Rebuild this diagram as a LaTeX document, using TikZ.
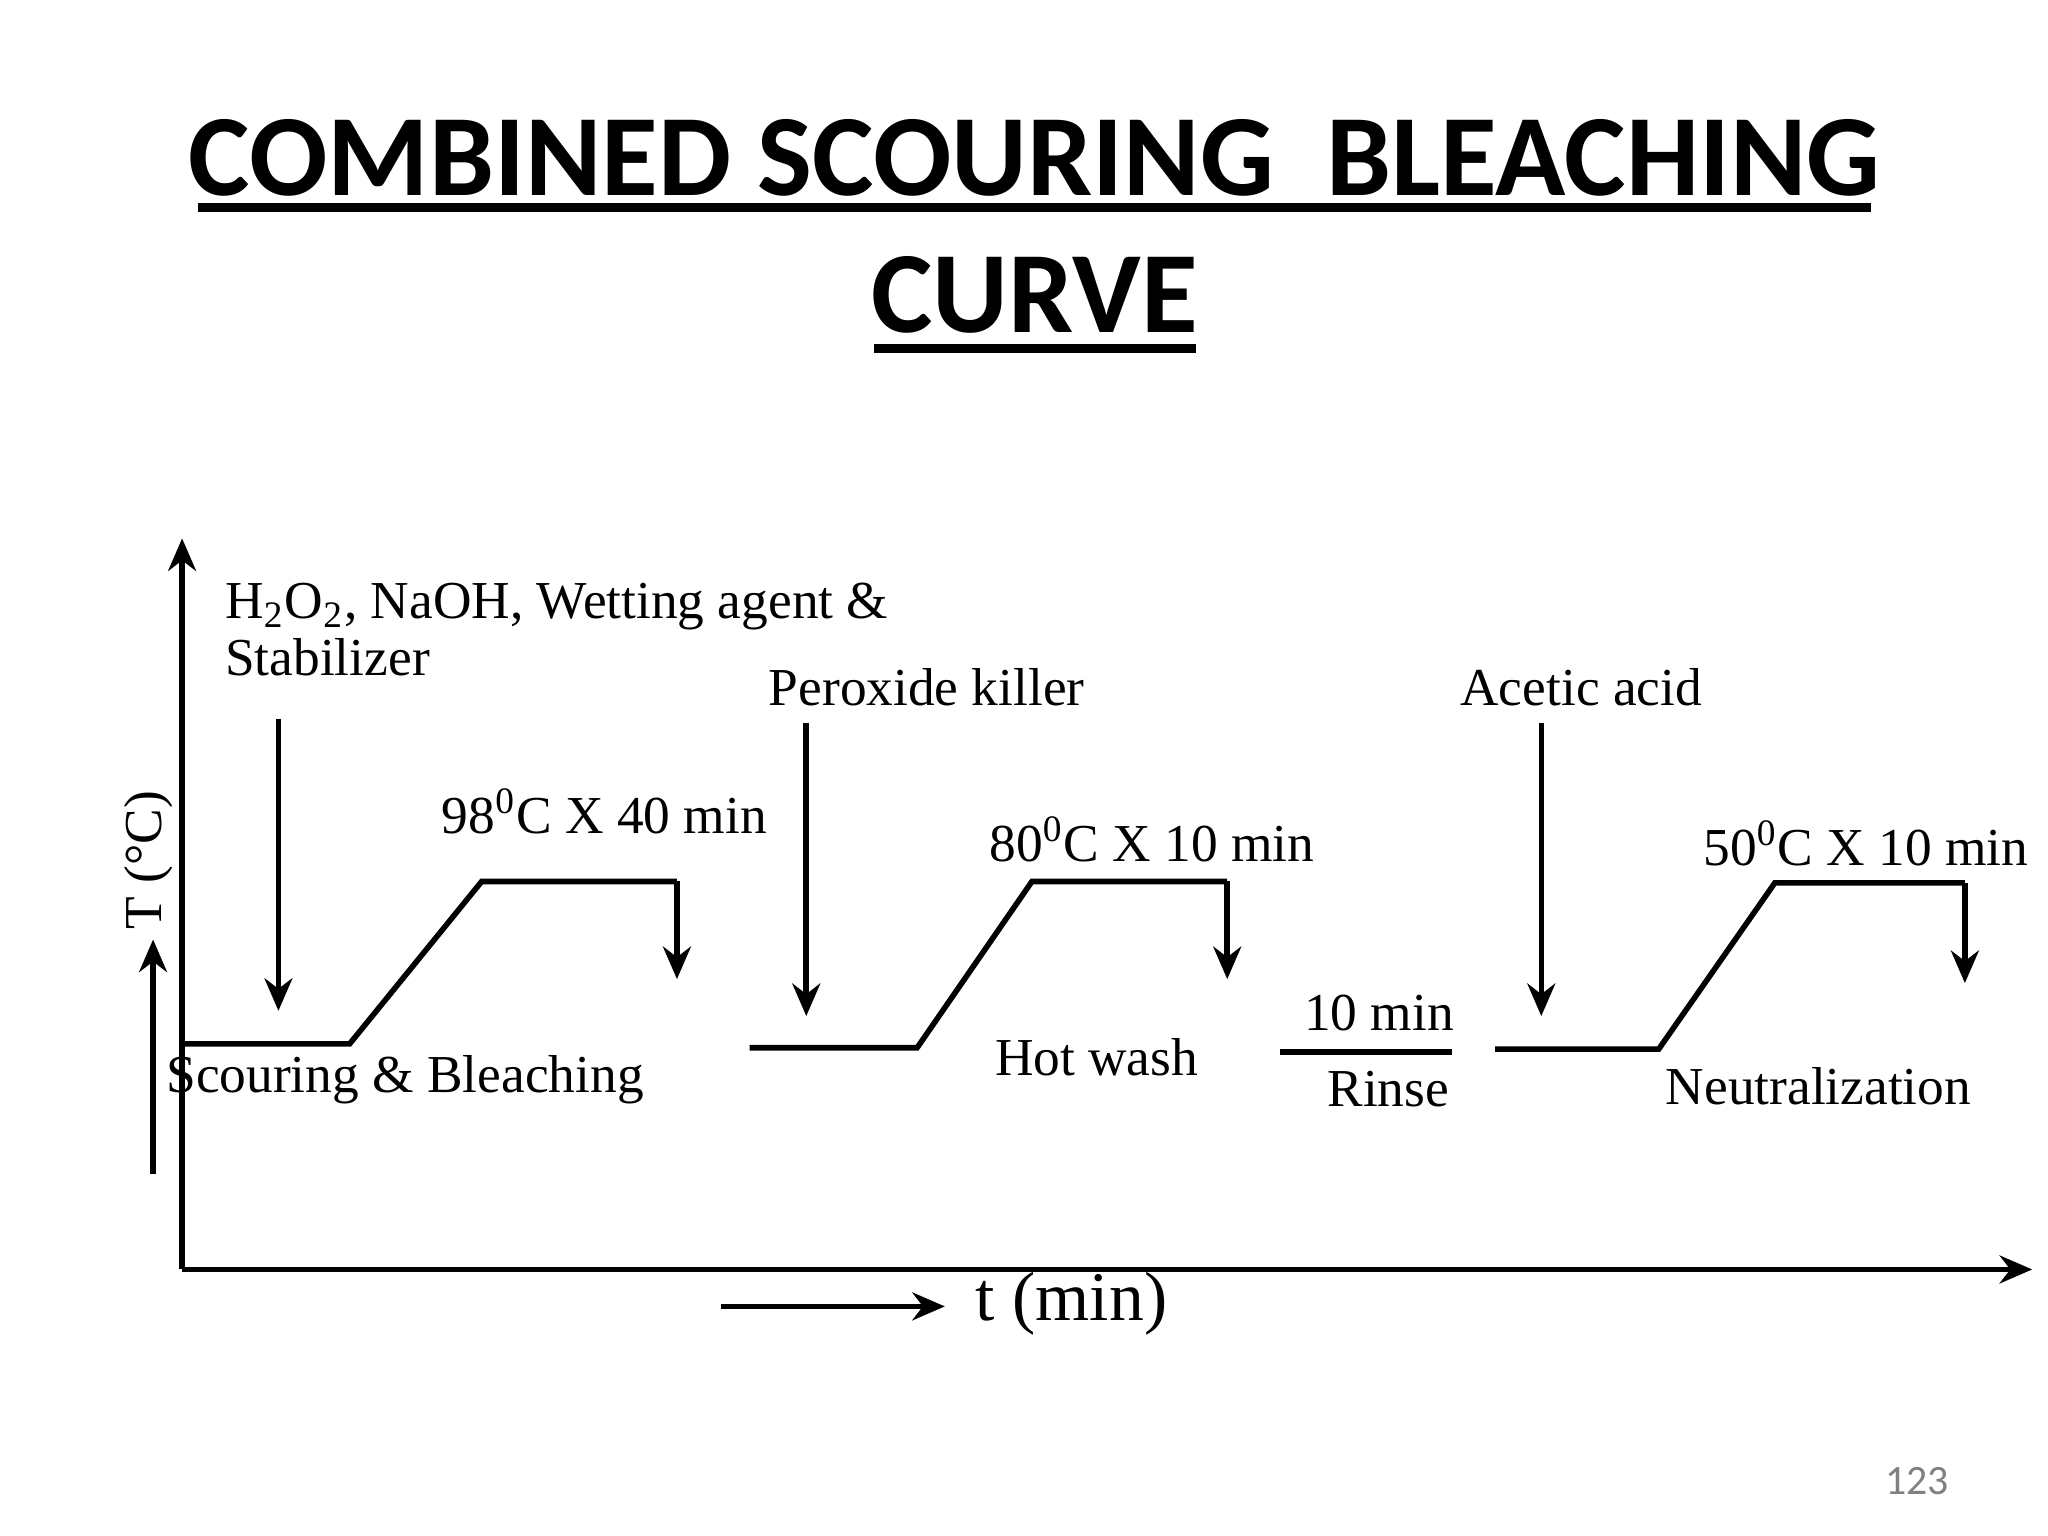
\documentclass[tikz,border=0pt]{standalone}
\usepackage{fontspec}
\setmainfont{Liberation Serif}
\newfontfamily\titlefont{Carlito}
\usetikzlibrary{arrows.meta}
\begin{document}
\begin{tikzpicture}[x=0.01cm,y=-0.01cm,
  lbl/.style={font=\fontsize{11.5}{13}\selectfont, inner sep=0pt},
  ttl/.style={font=\titlefont\bfseries\fontsize{25}{28}\selectfont, inner sep=0pt},
  crv/.style={line width=1.2pt},
  arr/.style={line width=1.2pt,-{Stealth[length=7pt,width=6pt]}}]
\useasboundingbox (0,0) rectangle (1552,1164);
% title
\node[ttl,anchor=base] (t1) at (784,148) {COMBINED SCOURING\ \ BLEACHING};
\node[ttl,anchor=base] (t2) at (784,252) {CURVE};
\draw[line width=2pt] (150,157) -- (1418,157);
\draw[line width=2pt] (662,264) -- (906,264);
% axes
\coordinate (o) at (138,962);
\coordinate (ytop) at (138,408);
\coordinate (xend) at (1540,962);
\draw[arr] (o) -- (ytop);
\draw[arr] (o) -- (xend);
\node[lbl,rotate=90] (ylab) at (113,652) {T (°C)};
\coordinate (ya) at (116,890); \coordinate (yb) at (116,712);
\draw[arr] (ya) -- (yb);
\coordinate (xa) at (546,990); \coordinate (xb) at (716,990);
\draw[arr] (xa) -- (xb);
\node[lbl,font=\fontsize{15}{17}\selectfont] (xlab) at (812,988) {t (min)};
% curve 1
\coordinate (a1) at (138,791); \coordinate (a2) at (265,791);
\coordinate (a3) at (365,668); \coordinate (a4) at (513,668); \coordinate (a5) at (513,742);
\draw[crv] (a1) -- (a2) -- (a3) -- (a4);
\draw[arr] (a4) -- (a5);
% curve 2
\coordinate (b1) at (568,794); \coordinate (b2) at (695,794);
\coordinate (b3) at (782,668); \coordinate (b4) at (930,668); \coordinate (b5) at (930,742);
\draw[crv] (b1) -- (b2) -- (b3) -- (b4);
\draw[arr] (b4) -- (b5);
% rinse
\coordinate (r1) at (970,797); \coordinate (r2) at (1100,797);
\draw[crv] (r1) -- (r2);
% curve 3
\coordinate (c1) at (1133,795); \coordinate (c2) at (1257,795);
\coordinate (c3) at (1345,669); \coordinate (c4) at (1489,669); \coordinate (c5) at (1489,745);
\draw[crv] (c1) -- (c2) -- (c3) -- (c4);
\draw[arr] (c4) -- (c5);
% chemical arrows
\coordinate (d1) at (211,545); \coordinate (d2) at (211,766);
\coordinate (e1) at (611,548); \coordinate (e2) at (611,770);
\coordinate (f1) at (1168,548); \coordinate (f2) at (1168,770);
\draw[arr] (d1) -- (d2);
\draw[arr] (e1) -- (e2);
\draw[arr] (f1) -- (f2);
% labels
\node[lbl,anchor=west] (h1) at (170,460) {H\textsubscript{2}O\textsubscript{2}, NaOH, Wetting agent \&};
\node[lbl,anchor=west] (h2) at (170,498) {Stabilizer};
\node[lbl,anchor=west] (pk) at (582,521) {Peroxide killer};
\node[lbl,anchor=west] (aa) at (1106,521) {Acetic acid};
\node[lbl] (l1) at (458,615) {98\textsuperscript{0}C X 40 min};
\node[lbl] (l2) at (873,636) {80\textsuperscript{0}C X 10 min};
\node[lbl] (l3) at (1414,639) {50\textsuperscript{0}C X 10 min};
\node[lbl] (s1) at (307,818) {Scouring \& Bleaching};
\node[lbl] (s2) at (831,801) {Hot wash};
\node[lbl] (s3) at (1045,768) {10 min};
\node[lbl] (s4) at (1052,825) {Rinse};
\node[lbl] (s5) at (1378,823) {Neutralization};
\node[font=\titlefont\fontsize{9}{11}\selectfont,text=gray,inner sep=0pt] (pg) at (1453,1122) {123};
\end{tikzpicture}
\end{document}
